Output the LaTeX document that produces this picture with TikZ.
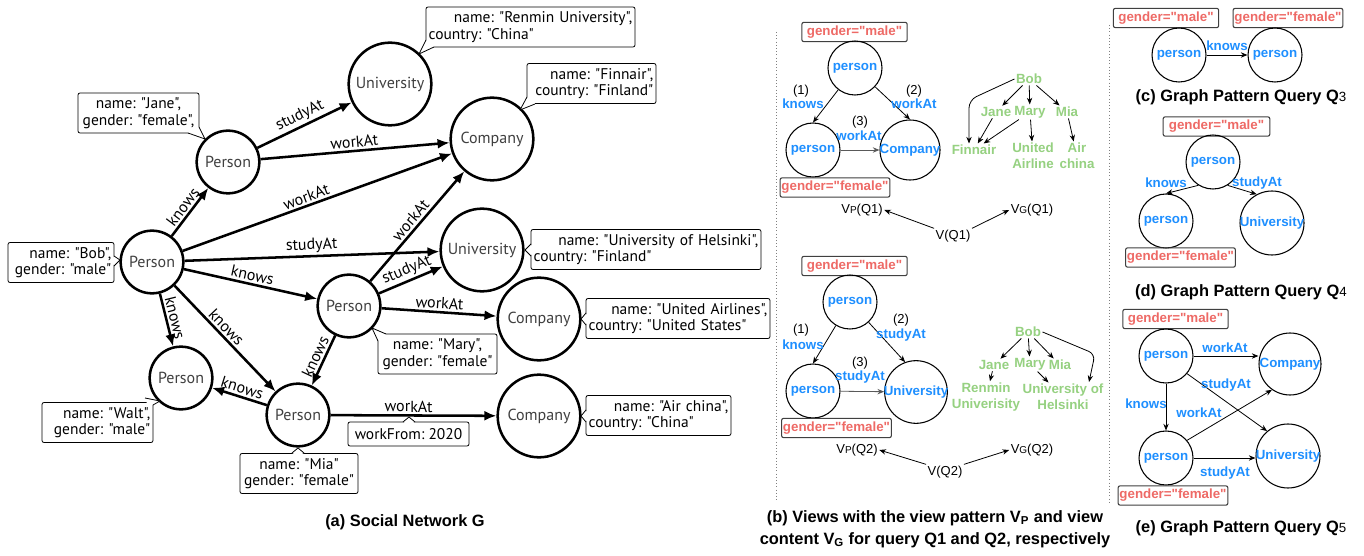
\documentclass[tikz,border=0pt]{standalone}
\usepackage{fontspec}
\setmainfont{Liberation Sans}
\newfontfamily\hel{Liberation Sans}[Ligatures=TeXOff]
\newfontfamily\gill{PT Sans}[Ligatures=TeXOff]
\usetikzlibrary{arrows.meta,calc}
\definecolor{qblue}{HTML}{1E8FFF}
\definecolor{qred}{HTML}{EE6A66}
\definecolor{qgreen}{HTML}{96D181}
\newcommand\calltail[4]{%
  \fill[white] #2 -- #4 -- #3 -- ($#2!.5!#3!2pt!(#1.center)$) -- cycle;
  \draw[line width=0.6pt, line join=round] #2 -- #4 -- #3;}
\frenchspacing
\begin{document}
\begin{tikzpicture}[x=0.75pt,y=-0.75pt,
  tA/.style={font=\gill\fontsize{12}{13}\selectfont, text=black!75},
  pA/.style={circle, draw, line width=1.9pt, minimum size=47pt, inner sep=0pt, label={[tA]center:#1}},
  cA/.style={pA=#1, minimum size=62pt},
  eA/.style={-{Latex[length=9pt,width=7.5pt]}, line width=1.9pt},
  lA/.style={font=\gill\fontsize{12}{13}\selectfont, sloped, above, inner sep=1.5pt},
  callout/.style={draw, line width=0.6pt, rounded corners=1.5pt, fill=white, inner xsep=2pt, inner ysep=1pt, font=\gill\frenchspacing\fontsize{11.6}{12.4}\selectfont, minimum height=30pt},
  tB/.style={font=\bfseries\fontsize{10}{12}\selectfont, text=qblue, inner sep=0pt},
  pB/.style={circle, draw, line width=0.8pt, minimum size=40.5pt, inner sep=0pt, label={[tB]center:#1}},
  gbox/.style={draw=black!75, line width=0.8pt, rounded corners=1.5pt, inner xsep=1pt, inner ysep=0pt, minimum height=14.5pt, font=\hel\bfseries\fontsize{10}{12}\selectfont, text=qred},
  blab/.style={font=\bfseries\fontsize{10}{12}\selectfont, text=qblue, inner sep=1pt},
  nlab/.style={font=\fontsize{9.75}{11}\selectfont, inner sep=1pt},
  gtxt/.style={font=\bfseries\fontsize{10}{12}\selectfont, text=qgreen, inner sep=1pt, align=center},
  eB/.style={-{Stealth[length=5pt,width=4pt]}, line width=0.6pt},
  captxt/.style={font=\bfseries\fontsize{12.3}{16.5}\selectfont, align=center},
  sepline/.style={gray, line width=0.6pt, dash pattern=on 0.8pt off 1.6pt}
]
\fill[white] (0,0) rectangle (1364,556);
\useasboundingbox (0,0) rectangle (1364,556);

% ---------------- (a) ----------------
\node[pA=Person] (bob) at (152,262) {};
\node[pA=Person] (jane) at (228,162) {};
\node[cA=University] (uni1) at (390,84) {};
\node[cA=Company] (comp1) at (492,139) {};
\node[cA=University] (uni2) at (482,250) {};
\node[pA=Person] (mary) at (349,306) {};
\node[cA=Company] (comp2) at (539,319) {};
\node[cA=Company] (comp3) at (539,416) {};
\node[pA=Person] (walt) at (181,378) {};
\node[pA=Person] (mia) at (298,415) {};

\draw[eA] (bob) -- node[lA] (ea1) {knows} (jane);
\draw[eA] (jane) -- node[lA] (ea2) {studyAt} (uni1);
\draw[eA] (jane) -- node[lA] (ea3) {workAt} (comp1);
\draw[eA] (bob) -- node[lA, pos=.47] (ea4) {workAt} (comp1);
\draw[eA] (bob) -- node[lA] (ea5) {studyAt} (uni2);
\draw[eA] (bob) -- node[lA] (ea6) {knows} (mary);
\draw[eA] (bob) -- node[lA] (ea7) {knows} (walt);
\draw[eA] (bob) -- node[lA, pos=.45] (ea8) {knows} (mia);
\draw[eA] (mary) -- node[lA] (ea9) {workAt} (comp1);
\draw[eA] (mary) -- node[lA] (ea10) {studyAt} (uni2);
\draw[eA] (mary) -- node[lA] (ea11) {workAt} (comp2);
\draw[eA] (mary) -- node[lA] (ea12) {knows} (mia);
\draw[eA] (mia) -- node[lA] (ea13) {knows} (walt);
\draw[eA] (mia) -- node[lA, pos=.47] (ea14) {workAt} (comp3);

% callouts
\node[callout, text width=86.75pt, align=center] (jbox) at (138.5,113) {name: "Jane",\\gender: "female",};
\calltail{jbox}{(188,133)}{(199,127)}{(205,139)}
\node[callout, text width=75.5pt, align=right] (bbox) at (61,262.5) {name: "Bob",\\gender: "male"};
\calltail{bbox}{(114,256)}{(114,266)}{(120,260)}
\node[callout, text width=152.75pt, align=left] (rbox) at (530.5,27) {\hfill name: "Renmin University",\\country: "China"};
\calltail{rbox}{(426,40)}{(434,47)}{(419,54)}
\node[callout, text width=92.75pt, align=right] (fbox) at (591.5,83.5) {name: "Finnair",\\country: "Finland"};
\calltail{fbox}{(527,97)}{(535,104)}{(520,110)}
\node[callout, text width=168.5pt, align=left] (hbox) at (646,249.5) {\hfill name: "University of Helsinki",\\country: "Finland"};
\calltail{hbox}{(531,244)}{(531,256)}{(525,250)}
\node[callout, text width=134pt, align=left] (ubox) at (678,318.5) {\hfill name: "United Airlines",\\country: "United States"};
\calltail{ubox}{(586,313)}{(586,325)}{(581,319)}
\node[callout, text width=85.25pt, align=center] (mbox) at (437.5,354) {name: "Mary",\\gender: "female"};
\calltail{mbox}{(378,341)}{(386,334)}{(372,328)}
\node[callout, text width=104.75pt, align=left] (abox) at (658.5,415.5) {\hfill name: "Air china",\\country: "China"};
\calltail{abox}{(586,410)}{(586,422)}{(581,416)}
\node[callout, minimum height=18pt, minimum width=90.75pt, inner ysep=0pt] (wbox) at (408.5,434) {workFrom: 2020};
\calltail{wbox}{(403,422)}{(415,422)}{(409,417)}
\node[callout, text width=79.25pt, align=right] (tbox) at (97.5,422.5) {name: "Walt",\\gender: "male"};
\calltail{tbox}{(145,398)}{(153,405)}{(160,401)}
\node[callout, text width=84.5pt, align=center] (ibox) at (299,473.5) {name: "Mia"\\gender: "female"};
\calltail{ibox}{(292,453)}{(304,453)}{(298,448)}

\node[captxt] (capa) at (405,522) {(a) Social Network G};

% separators
\draw[sepline] (776,32) -- (776,502);
\draw[sepline] (1109,25) -- (1109,503);

% ---------------- (b) top ----------------
\node[gbox, minimum width=79pt] (m1) at (854.5,32) {gender="male"};
\node[pB=person] (p1) at (855,68) {};
\node[pB=person] (p2) at (813,150) {};
\node[pB=Company, minimum size=45pt] (c1) at (910,150) {};
\node[gbox, minimum width=80pt] (f1) at (835,187.5) {gender="female"};
\draw[eB] (p1) -- (p2.north);
\draw[eB] (p1) -- (c1.north);
\draw[eB, black!65] (p2) -- (c1);
\node[nlab] (n11) at (801,91) {(1)};
\node[blab] (b11) at (803,104) {knows};
\node[nlab] (n12) at (914,91) {(2)};
\node[blab] (b12) at (914,104) {workAt};
\node[nlab] (n13) at (860,122) {(3)};
\node[blab] (b13) at (859,136) {workAt};

\node[gtxt] (gb1) at (1029,79) {Bob};
\node[gtxt] (gj1) at (996,112) {Jane};
\node[gtxt] (gm1) at (1030,112) {Mary};
\node[gtxt] (gi1) at (1067,112) {Mia};
\node[gtxt] (gf1) at (974,150) {Finnair};
\node[gtxt] (gu1) at (1033,156) {United\\Airline};
\node[gtxt] (ga1) at (1077,156) {Air\\china};
\coordinate (k1) at (969,100);
\draw[eB, rounded corners=6pt] (gb1.west) -- (k1) -- (k1 |- gf1.north);
\draw[eB] (gb1) -- (gj1);
\draw[eB] (gb1) -- (gm1);
\draw[eB] (gb1) -- (gi1);
\draw[eB] (gj1) -- (gf1);
\draw[eB] (gm1) -- (gf1);
\draw[eB] (gm1) -- (gu1);
\draw[eB] (gi1) -- (ga1);

\node[nlab] (vp1) at (862,210) {V{\fontsize{7.5}{9}\selectfont P}(Q1)};
\node[nlab] (v1) at (953,236) {V(Q1)};
\node[nlab] (vg1) at (1032,210) {V{\fontsize{7.5}{9}\selectfont G}(Q1)};
\draw[eB] (v1.north west) -- (vp1.east);
\draw[eB] (v1.north east) -- (vg1.west);

% ---------------- (b) bottom ----------------
\node[gbox, minimum width=79pt] (m2) at (854.5,266) {gender="male"};
\node[pB=person] (p3) at (850,302) {};
\node[pB=person] (p4) at (813,391) {};
\node[pB=University, minimum size=47pt] (u1) at (916,392) {};
\node[gbox, minimum width=80pt] (f2) at (836.5,428) {gender="female"};
\draw[eB] (p3) -- (p4.north);
\draw[eB] (p3) -- (u1.110);
\draw[eB, black!65] (p4) -- (u1);
\node[nlab] (n21) at (801,330) {(1)};
\node[blab] (b21) at (803,345) {knows};
\node[nlab] (n22) at (901,320) {(2)};
\node[blab] (b22) at (901,335) {studyAt};
\node[nlab] (n23) at (860,363) {(3)};
\node[blab] (b23) at (860,377) {studyAt};

\node[gtxt] (gb2) at (1028,332) {Bob};
\node[gtxt] (gj2) at (994,365) {Jane};
\node[gtxt] (gm2) at (1030,364) {Mary};
\node[gtxt] (gi2) at (1060,365) {Mia};
\node[gtxt] (gr2) at (986,397) {Renmin\\Univerisity};
\node[gtxt] (gh2) at (1063,397) {University of\\Helsinki};
\coordinate (k2) at (1095,354);
\coordinate (k3) at (1089,382);
\draw[eB, rounded corners=5pt] (gb2.east) -- (k2) -- (k3);
\draw[eB] (gb2) -- (gj2);
\draw[eB] (gb2) -- (gm2);
\draw[eB] (gb2) -- (gi2);
\draw[eB] (gj2) -- (gr2);
\draw[eB] (gm2) -- (gh2);

\node[nlab] (vp2) at (857,450) {V{\fontsize{7.5}{9}\selectfont P}(Q2)};
\node[nlab] (v2) at (945,472) {V(Q2)};
\node[nlab] (vg2) at (1032,450) {V{\fontsize{7.5}{9}\selectfont G}(Q2)};
\draw[eB] (v2.north west) -- (vp2.east);
\draw[eB] (v2.north east) -- (vg2.west);

\node[captxt] (capb) at (935,529) {(b) Views with the view pattern V\textsubscript{P} and view\\content V\textsubscript{G} for query Q1 and Q2, respectively};

% ---------------- (c) ----------------
\node[gbox, minimum width=79pt] (m3) at (1166,18) {gender="male"};
\node[gbox, minimum width=81pt] (f3) at (1288,18) {gender="female"};
\node[pB=person] (pc1) at (1179,55) {};
\node[pB=person] (pc2) at (1275,55) {};
\draw[eB] (pc1) -- (pc2);
\node[blab] (kc) at (1227,46) {knows};
\node[captxt] (capc) at (1241,97) {(c) Graph Pattern Query Q{\mdseries\fontsize{10}{12}\selectfont 3}};

% ---------------- (d) ----------------
\node[gbox, minimum width=80pt] (m4) at (1216.5,126.5) {gender="male"};
\node[pB=person] (pd1) at (1213,162) {};
\node[pB=person] (pd2) at (1166,221) {};
\node[pB=University, minimum size=48pt] (ud) at (1272,223) {};
\node[gbox, minimum width=79pt] (f4) at (1180.5,257.5) {gender="female"};
\draw[eB] (pd1.-122) -- (pd2.north);
\draw[eB] (pd1.-58) -- (ud.118);
\node[blab] (kd) at (1166,183) {knows};
\node[blab] (sd) at (1257,183) {studyAt};
\node[captxt] (capd) at (1241,292) {(d) Graph Pattern Query Q{\mdseries\fontsize{10}{12}\selectfont 4}};

% ---------------- (e) ----------------
\node[gbox, minimum width=79pt] (m5) at (1175.5,319) {gender="male"};
\node[pB=person] (pe1) at (1166,356) {};
\node[pB=Company, minimum size=46.5pt] (ce) at (1290,364) {};
\node[pB=person] (pe2) at (1166,458) {};
\node[pB=University, minimum size=48pt] (ue) at (1288,456) {};
\node[gbox, minimum width=82pt] (f5) at (1173,495.5) {gender="female"};
\draw[eB] (pe1.east) -- (ce.west |- pe1.east);
\draw[eB] (pe1.-40) -- (ue.130);
\draw[eB] (pe1.south) -- (pe2.north);
\draw[eB] (pe2.40) -- (ce.-125);
\draw[eB] (pe2.east) -- (ue.west |- pe2.east);
\node[blab] (we1) at (1225,348) {workAt};
\node[blab] (se1) at (1226,385) {studyAt};
\node[blab] (ke) at (1146,404) {knows};
\node[blab] (we2) at (1199,413) {workAt};
\node[blab] (se2) at (1225,473) {studyAt};
\node[captxt] (cape) at (1241,528) {(e) Graph Pattern Query Q{\mdseries\fontsize{10}{12}\selectfont 5}};
\end{tikzpicture}
\end{document}
